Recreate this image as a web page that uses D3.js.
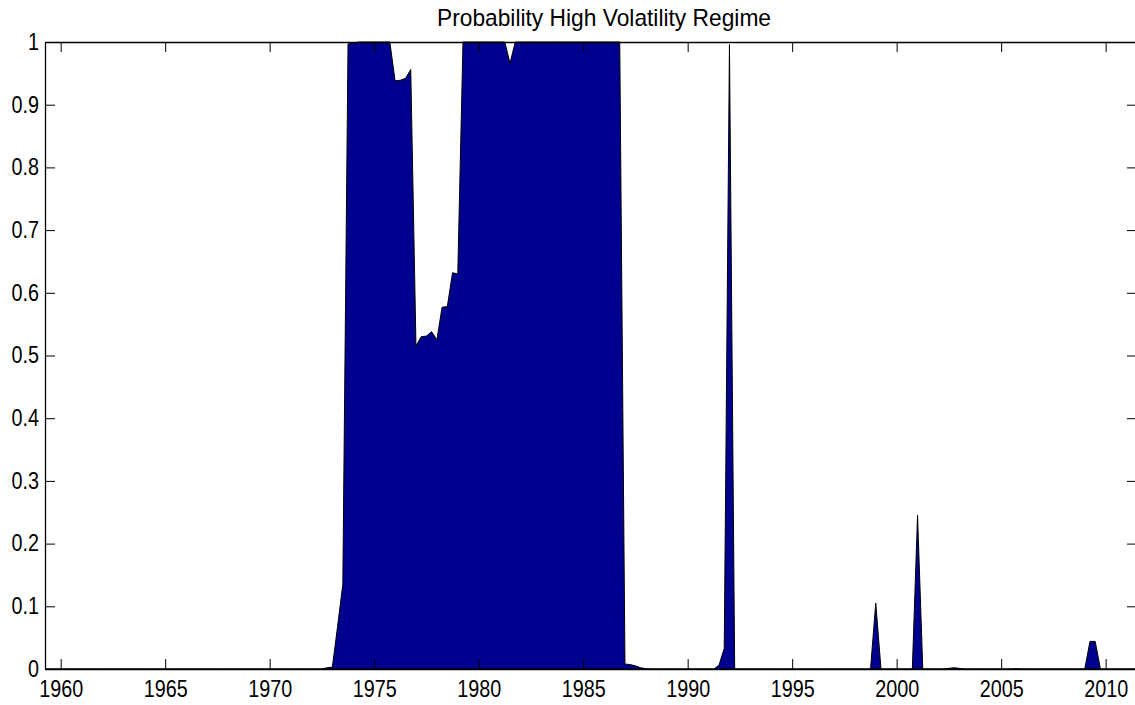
<!DOCTYPE html>
<html>
<head>
<meta charset="utf-8">
<script src="https://cdn.jsdelivr.net/npm/d3@7"></script>
<style>
  html, body { margin: 0; padding: 0; background: #fff; }
  svg { display: block; font-family: "Liberation Sans", Arial, Helvetica, sans-serif; }
</style>
</head>
<body>
<svg id="chart" width="1135" height="705"></svg>
<script>
// ---- Data (quarterly, first observation 1959 Q2) ----
const firstQuarter = 1959.25;
const quarterStep = 0.25;
const prob = [
  0, 0, 0,                                 // 1959
  0, 0, 0, 0,  0, 0, 0, 0,  0, 0, 0, 0,    // 1960-1962
  0, 0, 0, 0,  0, 0, 0, 0,  0, 0, 0, 0,    // 1963-1965
  0, 0, 0, 0,  0, 0, 0, 0,  0, 0, 0, 0,    // 1966-1968
  0, 0, 0, 0,  0, 0, 0, 0,  0, 0, 0, 0,    // 1969-1971
  0, 0, 0, 0.002,                          // 1972
  0.003, 0.068, 0.135, 0.997,              // 1973
  0.998, 1, 1, 1,                          // 1974
  1, 1, 1, 1,                              // 1975
  0.938, 0.939, 0.942, 0.956,              // 1976
  0.515, 0.53, 0.531, 0.538,               // 1977
  0.525, 0.577, 0.578, 0.632,              // 1978
  0.63, 1, 1, 1,                           // 1979
  1, 1, 1, 1,                              // 1980
  1, 1, 0.966, 1,                          // 1981
  1, 1, 1, 1,                              // 1982
  1, 1, 1, 1,                              // 1983
  1, 1, 1, 1,                              // 1984
  1, 1, 1, 1,                              // 1985
  1, 1, 1, 1,                              // 1986
  0.008, 0.007, 0.005, 0.002,              // 1987
  0.0005, 0, 0, 0,                         // 1988
  0, 0, 0, 0,                              // 1989
  0, 0, 0, 0,                              // 1990
  0, 0, 0.006, 0.033,                      // 1991
  0.996, 0, 0, 0,                          // 1992
  0, 0, 0, 0,  0, 0, 0, 0,  0, 0, 0, 0,    // 1993-1995
  0, 0, 0, 0,  0, 0, 0, 0,  0, 0, 0, 0,    // 1996-1998
  0.105, 0, 0, 0,                          // 1999
  0, 0, 0, 0,                              // 2000
  0.245, 0, 0, 0,                          // 2001
  0, 0, 0.001, 0.002,                      // 2002
  0.001, 0, 0, 0,                          // 2003
  0, 0, 0, 0,                              // 2004
  0, 0, 0, 0.0005,                         // 2005
  0, 0, 0, 0,  0, 0, 0, 0,  0, 0, 0, 0,    // 2006-2008
  0, 0.044, 0.044, 0,                      // 2009
  0, 0, 0, 0,                              // 2010
  0, 0, 0                                  // 2011
];
const xTickValues = [1960, 1965, 1970, 1975, 1980, 1985, 1990, 1995, 2000, 2005, 2010];
const yTickValues = [0, 0.1, 0.2, 0.3, 0.4, 0.5, 0.6, 0.7, 0.8, 0.9, 1];
const yTickLabels = ["0", "0.1", "0.2", "0.3", "0.4", "0.5", "0.6", "0.7", "0.8", "0.9", "1"];
const titleText = "Probability High Volatility Regime";

const series = prob.map((v, i) => ({ t: firstQuarter + i * quarterStep, v }));

// ---- Layout ----
const svg = d3.select("#chart");
const mLeft = 45, mRight = 1137, mTop = 42, mBottom = 669;
const tickLen = 10;
const fontSize = 23;
const squeeze = 0.86;   // glyphs in the reference are slightly condensed

const x = d3.scaleLinear().domain([1959.25, 2011.5]).range([mLeft, mRight]);
const y = d3.scaleLinear().domain([0, 1]).range([mBottom, mTop]);

// area
const area = d3.area().x(d => x(d.t)).y0(y(0)).y1(d => y(d.v));
svg.append("path")
  .datum(series)
  .attr("d", area)
  .attr("fill", "#00008f")
  .attr("stroke", "#000")
  .attr("stroke-width", 1)
  .attr("stroke-linejoin", "miter");

// axes (MATLAB box style, ticks inside on all four sides)
const gB = svg.append("g").attr("transform", `translate(0,${mBottom})`)
  .call(d3.axisBottom(x).tickValues(xTickValues).tickFormat(d3.format("d"))
        .tickSizeInner(-tickLen).tickSizeOuter(0).tickPadding(12));
const gT = svg.append("g").attr("transform", `translate(0,${mTop})`)
  .call(d3.axisTop(x).tickValues(xTickValues).tickFormat("")
        .tickSizeInner(-tickLen).tickSizeOuter(0));
const gL = svg.append("g").attr("transform", `translate(${mLeft},0)`)
  .call(d3.axisLeft(y).tickValues(yTickValues).tickFormat((d, i) => yTickLabels[i])
        .tickSizeInner(-tickLen).tickSizeOuter(0).tickPadding(6));
const gR = svg.append("g").attr("transform", `translate(${mRight},0)`)
  .call(d3.axisRight(y).tickValues(yTickValues).tickFormat("")
        .tickSizeInner(-tickLen).tickSizeOuter(0));

[gB, gT, gL, gR].forEach(g => {
  g.selectAll(".domain").attr("stroke", "#000").attr("stroke-width", 1.3);
  g.selectAll(".tick line").attr("stroke", "#000").attr("stroke-width", 1);
  g.selectAll("text").attr("fill", "#000").attr("font-size", fontSize)
    .attr("font-family", "'Liberation Sans', Arial, sans-serif")
    .each(function () {
      const t = d3.select(this);
      const x0 = +t.attr("x") || 0;
      t.attr("x", x0 / squeeze).attr("transform", `scale(${squeeze},1)`);
    });
});

// title
svg.append("text")
  .attr("x", 604 / 0.93).attr("y", 26)
  .attr("transform", "scale(0.93,1)")
  .attr("text-anchor", "middle")
  .attr("font-size", 24.5)
  .attr("fill", "#000")
  .text(titleText);
</script>
</body>
</html>
